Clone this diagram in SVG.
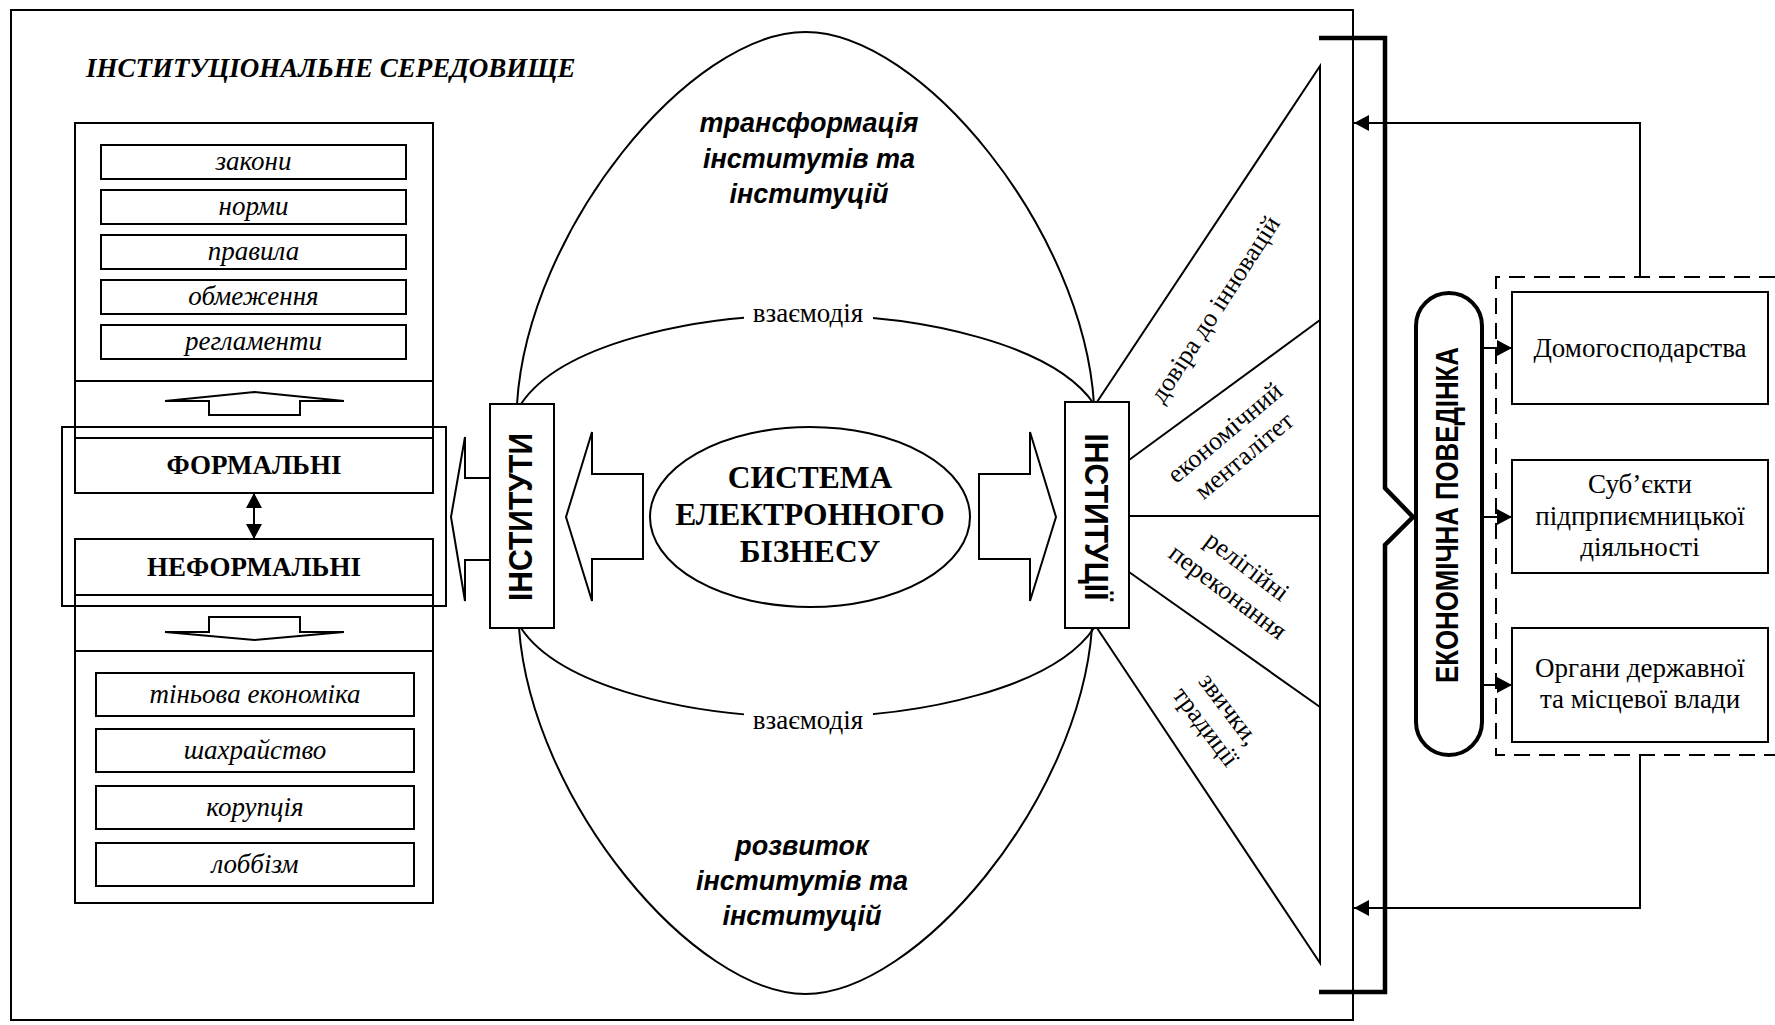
<svg xmlns="http://www.w3.org/2000/svg" width="1775" height="1025" viewBox="0 0 1775 1025">
<style>
.ln{fill:none;stroke:#000;stroke-width:2}
.bx{fill:#fff;stroke:#000;stroke-width:2}
.thk{fill:none;stroke:#000;stroke-width:4.5}
.it{font-family:"Liberation Serif","Times New Roman",serif;font-style:italic;font-size:27px;text-anchor:middle}
.sr{font-family:"Liberation Serif","Times New Roman",serif;font-size:27px;text-anchor:middle}
.srb{font-family:"Liberation Serif","Times New Roman",serif;font-weight:bold;text-anchor:middle}
.sb{font-family:"Liberation Sans",Arial,sans-serif;font-weight:bold;text-anchor:middle}
.sbi{font-family:"Liberation Sans",Arial,sans-serif;font-weight:bold;font-style:italic;font-size:27px;text-anchor:middle}
.fan{font-family:"Liberation Serif","Times New Roman",serif;font-size:26px;text-anchor:middle}
</style>
<defs>
<marker id="ah" viewBox="0 0 15 16" refX="15" refY="8" markerWidth="15" markerHeight="16" markerUnits="userSpaceOnUse" orient="auto-start-reverse">
<path d="M0,0 L15,8 L0,16 z" fill="#000"/>
</marker>
</defs>
<rect width="1775" height="1025" fill="#fff"/>

<g id="environment">
<rect x="11" y="10" width="1342" height="1010" class="ln" stroke-width="2.2"/>
<text x="86" y="77" font-family="Liberation Serif, Times New Roman, serif" font-weight="bold" font-style="italic" font-size="27">ІНСТИТУЦІОНАЛЬНЕ СЕРЕДОВИЩЕ</text>
</g>

<g id="lens">
<path class="ln" d="M517,404 C528,230 690,32 805.5,32 C921,32 1083,230 1094,404"/>
<path class="ln" d="M519,628 C532,802 695,994 805.5,994 C916,994 1079,802 1092,628"/>
<path class="ln" d="M521,404 C560,345 690,315 807,315 C924,315 1054,345 1094,404"/>
<path class="ln" d="M521,628 C560,687 690,717 807,717 C924,717 1054,687 1094,628"/>
<rect x="744" y="304" width="129" height="24" fill="#fff"/>
<text x="808" y="322" class="sr" font-size="29">взаємодія</text>
<rect x="744" y="709" width="129" height="25" fill="#fff"/>
<text x="808" y="729" class="sr" font-size="29">взаємодія</text>
<text class="sbi" x="809" y="132">трансформація</text>
<text class="sbi" x="809" y="168">інститутів та</text>
<text class="sbi" x="809" y="203">інституцій</text>
<text class="sbi" x="802" y="855">розвиток</text>
<text class="sbi" x="802" y="890">інститутів та</text>
<text class="sbi" x="802" y="925">інституцій</text>
</g>

<g id="formal-list">
<rect x="75" y="123" width="358" height="370" class="bx"/>
<line x1="75" y1="381" x2="433" y2="381" class="ln"/>
<rect x="101" y="145" width="305" height="34" class="bx"/>
<text x="253.5" y="170" class="it">закони</text>
<rect x="101" y="190" width="305" height="34" class="bx"/>
<text x="253.5" y="215" class="it">норми</text>
<rect x="101" y="235" width="305" height="34" class="bx"/>
<text x="253.5" y="260" class="it">правила</text>
<rect x="101" y="280" width="305" height="34" class="bx"/>
<text x="253.5" y="305" class="it">обмеження</text>
<rect x="101" y="325" width="305" height="34" class="bx"/>
<text x="253.5" y="350" class="it">регламенти</text>
<polygon points="165,401 254.5,392 344,401 300,401 300,415 209,415 209,401" class="bx"/>
</g>

<g id="informal-list">
<rect x="75" y="539" width="358" height="364" class="bx"/>
<line x1="75" y1="651" x2="433" y2="651" class="ln"/>
<polygon points="209,617 300,617 300,632 344,632 254.5,640 165,632 209,632" class="bx"/>
<rect x="96" y="673" width="318" height="43" class="bx"/>
<text x="255" y="703" class="it">тіньова економіка</text>
<rect x="96" y="729" width="318" height="43" class="bx"/>
<text x="255" y="759" class="it">шахрайство</text>
<rect x="96" y="786" width="318" height="43" class="bx"/>
<text x="255" y="816" class="it">корупція</text>
<rect x="96" y="843" width="318" height="43" class="bx"/>
<text x="255" y="873" class="it">лоббізм</text>
</g>

<g id="formal-informal">
<rect x="62" y="427" width="384" height="179" class="ln"/>
<rect x="75" y="438" width="358" height="55" class="bx"/>
<text x="254" y="474" class="srb" font-size="27">ФОРМАЛЬНІ</text>
<rect x="75" y="539" width="358" height="56" class="bx"/>
<text x="254" y="576" class="srb" font-size="27">НЕФОРМАЛЬНІ</text>
</g>

<g id="institutes">
<polygon points="490,478 465,478 465,437 451,517 465,601 465,560 490,560" class="bx"/>
<rect x="490" y="404" width="64" height="224" class="bx"/>
<text transform="translate(520,517) rotate(-90)" x="0" y="12" class="sb" font-size="33" textLength="168" lengthAdjust="spacingAndGlyphs">ІНСТИТУТИ</text>
</g>

<g id="e-business">
<polygon points="643,474 592,474 592,432 566,517 592,601 592,559 643,559" class="bx"/>
<polygon points="979,474 1030,474 1030,432 1056,517 1030,601 1030,559 979,559" class="bx"/>
<ellipse cx="810" cy="517" rx="160" ry="90" class="bx"/>
<text x="810" y="488" class="srb" font-size="31.5">СИСТЕМА</text>
<text x="810" y="525" class="srb" font-size="31.5">ЕЛЕКТРОННОГО</text>
<text x="810" y="562" class="srb" font-size="31.5">БІЗНЕСУ</text>
</g>

<g id="fan">
<path class="ln" d="M1097,402 L1320,66 V963 L1097,628"/>
<line x1="1129" y1="460" x2="1320" y2="320" class="ln"/>
<line x1="1129" y1="516" x2="1320" y2="516" class="ln"/>
<line x1="1129" y1="572" x2="1320" y2="707" class="ln"/>
<text class="fan" transform="translate(1216,310) rotate(-57)" y="7">довіра до інновацій</text>
<text class="fan" transform="translate(1236,446) rotate(-40)"><tspan x="0" y="-9">економічний</tspan><tspan x="0" y="21">менталітет</tspan></text>
<text class="fan" transform="translate(1236,581) rotate(37)"><tspan x="0" y="-10">релігійні</tspan><tspan x="0" y="22">переконання</tspan></text>
<text class="fan" transform="translate(1216,719) rotate(53)"><tspan x="0" y="-8">звички,</tspan><tspan x="0" y="21">традиції</tspan></text>
</g>

<g id="institutions">
<rect x="1065" y="402" width="64" height="226" class="bx"/>
<text transform="translate(1097,517) rotate(90)" x="0" y="12" class="sb" font-size="33" textLength="167" lengthAdjust="spacingAndGlyphs">ІНСТИТУЦІЇ</text>
</g>

<g id="bracket">
<path class="thk" d="M1319,38 H1385 V488 L1413,517 L1385,545 V992 H1319"/>
</g>

<g id="economic-behaviour">
<rect x="1416" y="293" width="66" height="462" rx="33" ry="33" fill="#fff" stroke="#000" stroke-width="4"/>
<text transform="translate(1447,515) rotate(-90)" x="0" y="11" class="sb" font-size="31" textLength="336" lengthAdjust="spacingAndGlyphs">ЕКОНОМІЧНА ПОВЕДІНКА</text>
</g>

<g id="actors">
<path d="M1800,277 H1496 V755 H1800" fill="none" stroke="#000" stroke-width="2" stroke-dasharray="16 9"/>
</g>

<g id="households">
<rect x="1512" y="292" width="256" height="112" class="bx"/>
<text x="1640" y="357" class="sr">Домогосподарства</text>
</g>

<g id="entrepreneurs">
<rect x="1512" y="460" width="256" height="113" class="bx"/>
<text x="1640" y="493" class="sr">Суб’єкти</text>
<text x="1640" y="525" class="sr">підпрпиємницької</text>
<text x="1640" y="556" class="sr">діяльності</text>
</g>

<g id="authorities">
<rect x="1512" y="628" width="256" height="114" class="bx"/>
<text x="1640" y="677" class="sr">Органи державної</text>
<text x="1640" y="708" class="sr">та місцевої влади</text>
</g>

<g id="connectors">
<line x1="254" y1="493" x2="254" y2="539" class="ln" marker-start="url(#ah)" marker-end="url(#ah)"/>
<line x1="1482" y1="348" x2="1512" y2="348" class="ln" marker-end="url(#ah)"/>
<line x1="1482" y1="517" x2="1512" y2="517" class="ln" marker-end="url(#ah)"/>
<line x1="1482" y1="685" x2="1512" y2="685" class="ln" marker-end="url(#ah)"/>
<path d="M1640,277 V123 H1354" class="ln" marker-end="url(#ah)"/>
<path d="M1640,755 V908 H1354" class="ln" marker-end="url(#ah)"/>
</g>
</svg>
